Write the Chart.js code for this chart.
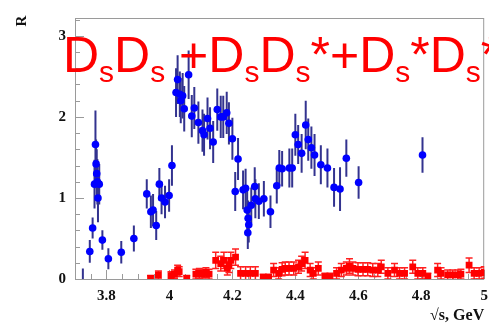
<!DOCTYPE html>
<html>
<head>
<meta charset="utf-8">
<script src="https://cdn.jsdelivr.net/npm/chart.js@4"></script>
<style>
  html, body { margin: 0; padding: 0; background: #ffffff; }
  #wrap { width: 489px; height: 325px; }
</style>
</head>
<body>
<div id="wrap"><canvas id="c" width="489" height="325"></canvas></div>
<script>
// Inclusive ratio R measured in e+e- scans (blue) and Ds pair channels (red)
const xTicks = [3.8, 4.0, 4.2, 4.4, 4.6, 4.8, 5.0];
const xTickLabels = ['3.8', '4', '4.2', '4.4', '4.6', '4.8', '5'];
const yTicks = [0, 1, 2, 3];
const yTickLabels = ['0', '1', '2', '3'];

// R values, blue series
const rEnergy = [
  3.725, 3.747, 3.756, 3.762, 3.765, 3.767, 3.769, 3.771, 3.773, 3.777,
  3.787, 3.806, 3.847, 3.887, 3.928, 3.941, 3.948, 3.958, 3.968, 3.975,
  3.986, 3.999, 4.008, 4.021, 4.026, 4.033, 4.036, 4.042, 4.047, 4.061,
  4.071, 4.079, 4.092, 4.105, 4.110, 4.121, 4.129, 4.139, 4.152, 4.163,
  4.171, 4.182, 4.189, 4.200, 4.209, 4.218, 4.234, 4.242, 4.247, 4.249,
  4.250, 4.252, 4.260, 4.271, 4.273, 4.284, 4.300, 4.321, 4.341, 4.349,
  4.358, 4.381, 4.390, 4.400, 4.409, 4.420, 4.433, 4.441, 4.451, 4.461,
  4.481, 4.502, 4.523, 4.542, 4.562, 4.601, 4.804
];
const rValue = [
  -0.08, 0.34, 0.63, 1.17, 1.66, 1.42, 1.30, 1.20, 1.00, 1.17,
  0.48, 0.25, 0.33, 0.50, 1.05, 0.83, 0.85, 0.66, 1.17, 1.00,
  0.95, 1.03, 1.40, 2.30, 2.46, 2.28, 2.20, 2.26, 2.10, 2.52,
  2.01, 2.11, 1.93, 1.83, 1.78, 1.98, 1.86, 1.69, 2.09, 2.00,
  2.00, 2.05, 1.92, 1.73, 1.08, 1.48, 1.10, 1.12, 0.85, 0.57,
  0.75, 0.67, 0.91, 1.14, 0.99, 0.96, 0.99, 0.83, 1.15, 1.37,
  1.36, 1.37, 1.37, 1.78, 1.66, 1.55, 1.90, 1.72, 1.62, 1.53,
  1.41, 1.37, 1.13, 1.11, 1.49, 1.19, 1.53
];
const rError = [
  0.21, 0.14, 0.13, 0.30, 0.42, 0.30, 0.30, 0.28, 0.30, 0.25,
  0.12, 0.13, 0.14, 0.16, 0.18, 0.20, 0.20, 0.18, 0.20, 0.20,
  0.20, 0.20, 0.25, 0.30, 0.30, 0.28, 0.28, 0.28, 0.28, 0.30,
  0.26, 0.26, 0.26, 0.26, 0.26, 0.26, 0.26, 0.26, 0.26, 0.26,
  0.26, 0.26, 0.26, 0.26, 0.24, 0.26, 0.24, 0.24, 0.24, 0.20,
  0.22, 0.22, 0.22, 0.24, 0.24, 0.22, 0.22, 0.20, 0.22, 0.22,
  0.22, 0.24, 0.24, 0.26, 0.24, 0.24, 0.30, 0.26, 0.26, 0.26,
  0.24, 0.24, 0.24, 0.27, 0.23, 0.20, 0.22
];

// Ds pair channels, red series
const dsEnergy = [
  3.940, 3.965, 4.005, 4.016, 4.026, 4.031, 4.055, 4.084, 4.095, 4.105,
  4.116, 4.126, 4.147, 4.163, 4.173, 4.184, 4.189, 4.195, 4.210, 4.226,
  4.242, 4.257, 4.273, 4.298, 4.315, 4.331, 4.347, 4.358, 4.368, 4.380,
  4.395, 4.410, 4.420, 4.431, 4.447, 4.457, 4.473, 4.494, 4.510, 4.531,
  4.546, 4.562, 4.572, 4.583, 4.599, 4.615, 4.630, 4.646, 4.662, 4.673,
  4.694, 4.715, 4.731, 4.747, 4.773, 4.789, 4.805, 4.821, 4.852, 4.863,
  4.884, 4.900, 4.916, 4.926, 4.952, 4.968, 4.984, 5.000
];
const dsValue = [
  0.01, 0.05, 0.04, 0.06, 0.11, 0.09, 0.01, 0.06, 0.07, 0.06,
  0.08, 0.06, 0.23, 0.19, 0.23, 0.13, 0.17, 0.23, 0.27, 0.07,
  0.07, 0.07, 0.07, 0.02, 0.02, 0.11, 0.07, 0.12, 0.13, 0.13,
  0.13, 0.15, 0.19, 0.23, 0.11, 0.07, 0.13, 0.03, 0.03, 0.07,
  0.11, 0.13, 0.16, 0.13, 0.12, 0.12, 0.12, 0.11, 0.11, 0.15,
  0.07, 0.11, 0.07, 0.07, 0.15, 0.07, 0.07, 0.03, 0.11, 0.07,
  0.05, 0.05, 0.05, 0.06, 0.17, 0.07, 0.07, 0.08
];
const dsError = [
  0.03, 0.05, 0.05, 0.05, 0.06, 0.06, 0.03, 0.06, 0.06, 0.06,
  0.06, 0.06, 0.10, 0.09, 0.10, 0.08, 0.09, 0.10, 0.10, 0.08,
  0.08, 0.08, 0.08, 0.04, 0.04, 0.08, 0.07, 0.08, 0.08, 0.08,
  0.08, 0.08, 0.09, 0.10, 0.08, 0.07, 0.08, 0.04, 0.04, 0.07,
  0.08, 0.08, 0.09, 0.08, 0.08, 0.08, 0.08, 0.08, 0.08, 0.08,
  0.07, 0.08, 0.07, 0.07, 0.08, 0.07, 0.07, 0.04, 0.08, 0.07,
  0.06, 0.06, 0.06, 0.06, 0.09, 0.07, 0.07, 0.07
];

// Channel label drawn across the top of the plot: [text, isSubscript]
const channelLabel = [
  ['D', false], ['s', true], ['D', false], ['s', true], [' +', false],
  ['D', false], ['s', true], ['D', false], ['s', true], ['*+', false],
  ['D', false], ['s', true], ['*', false],
  ['D', false], ['s', true], ['*', false]
];
const yTitle = 'R';

const toPoints = (xs, ys, es) => xs.map((x, i) => ({ x: x, y: ys[i], e: es[i] }));

const AXIS_COLOR = '#9a9a9a';
const SERIF = '"Liberation Serif", "DejaVu Serif", serif';
const LABEL_FONT = { family: SERIF, weight: 'bold', size: 15 };

// Vertical error bars (blue: plain, red: with caps), clipped to the plot area
const errorBars = {
  id: 'errorBars',
  beforeDatasetsDraw(chart) {
    const { ctx, chartArea: a, scales: { x, y } } = chart;
    ctx.save();
    ctx.beginPath();
    ctx.rect(a.left, a.top, a.right - a.left, a.bottom - a.top);
    ctx.clip();
    chart.data.datasets.forEach(ds => {
      ctx.strokeStyle = ds.errorColor;
      ctx.lineWidth = ds.errorWidth;
      ds.data.forEach(p => {
        const px = x.getPixelForValue(p.x);
        const top = y.getPixelForValue(p.y + p.e);
        const bot = y.getPixelForValue(p.y - p.e);
        ctx.beginPath();
        ctx.moveTo(px, top);
        ctx.lineTo(px, bot);
        if (ds.errorCap) {
          ctx.moveTo(px - ds.errorCap, top);
          ctx.lineTo(px + ds.errorCap, top);
          ctx.moveTo(px - ds.errorCap, bot);
          ctx.lineTo(px + ds.errorCap, bot);
        }
        ctx.stroke();
      });
    });
    ctx.restore();
  }
};

// Frame, inward-pointing ticks and the rotated y title
const frame = {
  id: 'frame',
  beforeDatasetsDraw(chart) {
    const { ctx, chartArea: a, scales: { x, y } } = chart;
    ctx.save();
    ctx.strokeStyle = AXIS_COLOR;
    ctx.lineWidth = 1;
    ctx.strokeRect(a.left + 0.5, a.top + 0.5, a.right - a.left - 1, a.bottom - a.top);
    ctx.beginPath();
    for (let v = 0; v <= y.max + 1e-9; v += 0.2) {
      const py = Math.round(y.getPixelForValue(v)) + 0.5;
      const major = Math.abs(v - Math.round(v)) < 1e-6;
      ctx.moveTo(a.left, py);
      ctx.lineTo(a.left + (major ? 9 : 5), py);
    }
    for (let v = 3.7; v <= x.max + 1e-9; v += 0.05) {
      const px = Math.round(x.getPixelForValue(v)) + 0.5;
      const major = xTicks.some(t => Math.abs(t - v) < 1e-6);
      ctx.moveTo(px, a.bottom);
      ctx.lineTo(px, a.bottom - (major ? 9 : 5));
    }
    ctx.stroke();

    ctx.translate(22, 21);
    ctx.rotate(-Math.PI / 2);
    ctx.fillStyle = '#111111';
    ctx.font = 'bold 15px ' + SERIF;
    ctx.textAlign = 'center';
    ctx.textBaseline = 'middle';
    ctx.fillText(yTitle, 0, 0);
    ctx.restore();
  }
};

// Red channel caption on top of everything
const caption = {
  id: 'caption',
  afterDraw(chart) {
    const ctx = chart.ctx;
    ctx.save();
    ctx.fillStyle = '#ff0000';
    ctx.textBaseline = 'alphabetic';
    ctx.textAlign = 'left';
    let cx = 63;
    channelLabel.forEach(([t, sub]) => {
      ctx.font = (sub ? '30px' : '50px') + ' "Liberation Sans", Arial, sans-serif';
      ctx.fillText(t, cx, sub ? 82 : 72);
      cx += ctx.measureText(t).width;
    });
    ctx.restore();
  }
};

new Chart(document.getElementById('c'), {
  type: 'scatter',
  data: {
    datasets: [
      {
        label: 'R',
        data: toPoints(rEnergy, rValue, rError),
        pointStyle: 'circle',
        pointRadius: 3.8,
        pointBackgroundColor: '#0000ff',
        pointBorderWidth: 0,
        errorColor: '#33338f',
        errorWidth: 2,
        errorCap: 0
      },
      {
        label: 'DsDs',
        data: toPoints(dsEnergy, dsValue, dsError),
        pointStyle: 'rect',
        pointRadius: 4.8,
        pointBackgroundColor: '#ff0000',
        pointBorderWidth: 0,
        errorColor: '#ff2020',
        errorWidth: 1.5,
        errorCap: 3.5
      }
    ]
  },
  options: {
    responsive: false,
    animation: false,
    devicePixelRatio: 1,
    layout: { padding: { top: 10, right: 1, left: 0, bottom: 0 } },
    plugins: { legend: { display: false }, tooltip: { enabled: false } },
    scales: {
      x: {
        type: 'linear',
        min: 3.7,
        max: 5.0,
        grid: { display: false, drawTicks: false },
        border: { display: false },
        afterBuildTicks(scale) { scale.ticks = xTicks.map(v => ({ value: v })); },
        afterFit(scale) { scale.height = 46; scale.paddingLeft = 0; scale.paddingRight = 0; },
        ticks: {
          autoSkip: false, maxRotation: 0, padding: 8, color: '#111111', font: LABEL_FONT,
          callback: (v) => xTickLabels[xTicks.findIndex(t => Math.abs(t - v) < 1e-6)]
        },
        title: {
          display: true, text: '√s, GeV', align: 'end', color: '#111111',
          font: { family: SERIF, weight: 'bold', size: 16 },
          padding: { top: 0, bottom: 0 }
        }
      },
      y: {
        type: 'linear',
        min: 0,
        max: 3.22,
        grid: { display: false, drawTicks: false },
        border: { display: false },
        afterBuildTicks(scale) { scale.ticks = yTicks.map(v => ({ value: v })); },
        afterFit(scale) { scale.width = 75; },
        ticks: {
          autoSkip: false, padding: 9, color: '#111111', font: LABEL_FONT,
          callback: (v) => yTickLabels[yTicks.indexOf(v)]
        }
      }
    }
  },
  plugins: [frame, errorBars, caption]
});
</script>
</body>
</html>
